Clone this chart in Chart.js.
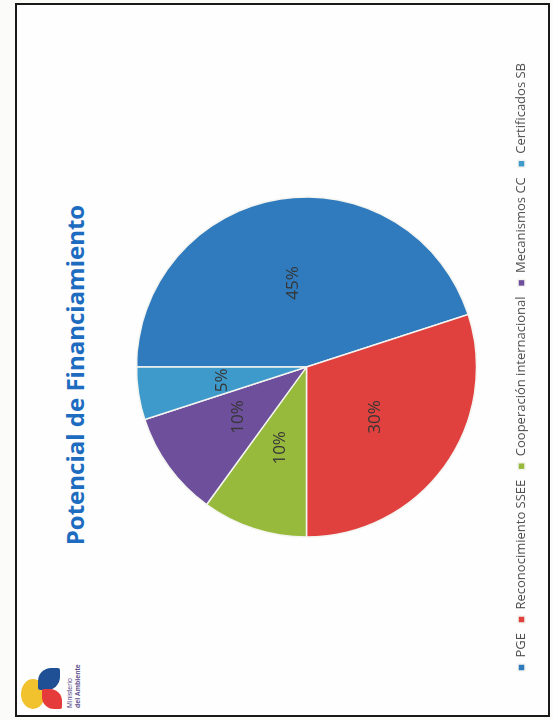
<!DOCTYPE html>
<html>
<head>
<meta charset="utf-8">
<script src="https://cdn.jsdelivr.net/npm/chart.js@4.4.1/dist/chart.umd.min.js"></script>
<style>
    html, body { margin: 0; padding: 0; background: #fbfbfa; }
    body { width: 553px; height: 720px; overflow: hidden; position: relative; }
    /* slide is drawn upright (720x553) and then turned a quarter left */
    #slide {
        position: absolute; left: 0; top: 0;
        width: 720px; height: 553px;
        transform-origin: 0 0;
        transform: translateY(720px) rotate(-90deg);
    }
    #frame {
        position: absolute; left: 3px; top: 15px; width: 710px; height: 531px;
        border: 2px solid #1a1a1a; background: #fefefe;
    }
    #title {
        position: absolute; left: 170px; top: 58px; width: 350px;
        text-align: center;
        font-family: "Open Sans", sans-serif; font-weight: 700; font-size: 24px;
        color: #1d6cc0; white-space: nowrap;
    }
    #chart-box { position: absolute; left: 0; top: 100px; width: 706px; height: 450px; }
    .logo { position: absolute; left: 8px; top: 18px; width: 46px; height: 46px; }
    .petal { position: absolute; }
    .logo-text {
        position: absolute; left: 12px; top: 66px;
        font-family: "Liberation Sans", sans-serif; font-size: 7px; line-height: 8px; color: #5a4a8a;
    }
</style>
</head>
<body>
<div id="slide">
    <div id="frame"></div>
    <div class="logo">
        <div class="petal" style="left:3px;top:3px;width:30px;height:24px;background:#f2c12e;border-radius:50%;"></div>
        <div class="petal" style="left:22px;top:20px;width:22px;height:22px;background:#1f4f94;border-radius:10% 60% 10% 60%;"></div>
        <div class="petal" style="left:3px;top:24px;width:20px;height:20px;background:#e63b3b;border-radius:60% 10% 60% 10%;"></div>
    </div>
    <div class="logo-text">Ministerio<br><b>del Ambiente</b></div>
    <div id="title">Potencial de Financiamiento</div>
    <div id="chart-box"><canvas id="chart-pie"></canvas></div>
</div>
<script>
const categories = ['PGE', 'Reconocimiento SSEE', 'Cooperación internacional', 'Mecanismos CC', 'Certificados SB'];
const shares = [45, 30, 10, 10, 5];
const sliceColors = ['#2f7bbd', '#e0413f', '#97ba3d', '#6d4f9b', '#3e9acb'];

// percentage labels in the middle of each slice
const sliceLabels = {
    id: 'sliceLabels',
    afterDatasetsDraw(chart) {
        const ctx = chart.ctx;
        const meta = chart.getDatasetMeta(0);
        ctx.save();
        ctx.font = '17px "Open Sans", sans-serif';
        ctx.fillStyle = '#363636';
        ctx.textAlign = 'center';
        ctx.textBaseline = 'middle';
        meta.data.forEach((arc, i) => {
            const p = arc.tooltipPosition();
            ctx.fillText(shares[i] + '%', p.x, p.y);
        });
        ctx.restore();
    }
};

new Chart(document.getElementById('chart-pie').getContext('2d'), {
    type: 'pie',
    data: {
        labels: categories,
        datasets: [{
            data: shares,
            backgroundColor: sliceColors,
            borderColor: '#f4f4f0',
            borderWidth: 1.5,
            radius: 170
        }]
    },
    options: {
        responsive: true,
        maintainAspectRatio: false,
        animation: false,
        layout: { padding: { top: 8, bottom: 12 } },
        plugins: {
            legend: {
                position: 'bottom',
                labels: {
                    boxWidth: 7,
                    boxHeight: 7,
                    padding: 10,
                    color: '#505050',
                    font: { family: '"Open Sans", sans-serif', size: 13 }
                }
            },
            tooltip: { enabled: false }
        }
    },
    plugins: [sliceLabels]
});
</script>
</body>
</html>
